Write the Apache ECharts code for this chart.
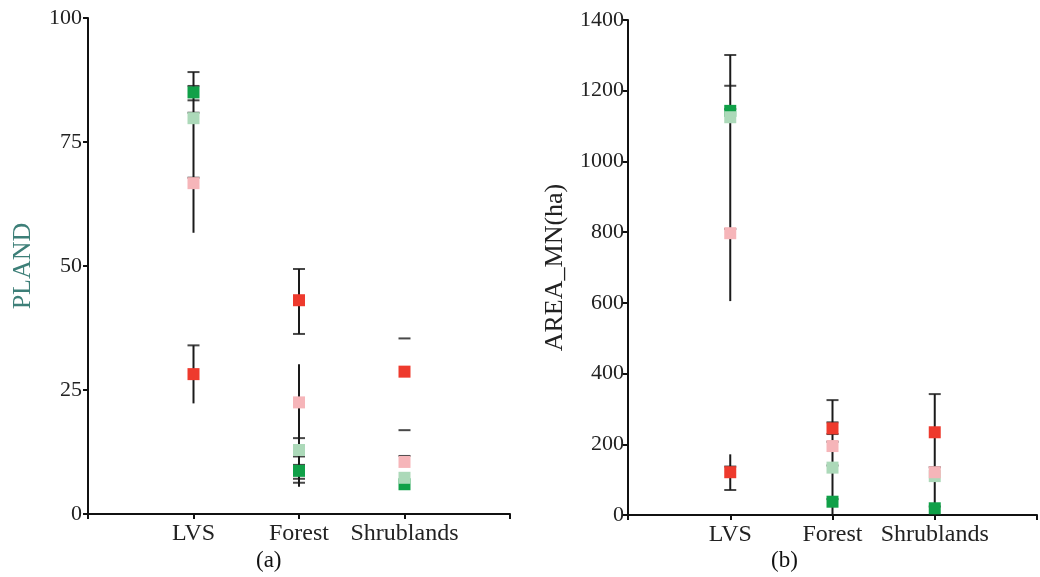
<!DOCTYPE html>
<html>
<head>
<meta charset="utf-8">
<script src="https://cdn.jsdelivr.net/npm/echarts@6/dist/echarts.min.js"></script>
<style>
  html, body { margin: 0; padding: 0; background: #fff; }
  #chart { width: 1040px; height: 577px; }
</style>
</head>
<body>
<div id="chart"></div>
<script>
// categories on both panels
var categories = ['LVS', 'Forest', 'Shrublands'];

// (a) PLAND - mean of each group, per category
var plandDarkGreen  = [85.0, 8.7, 6.0];
var plandLightGreen = [79.8, 12.9, 7.3];
var plandPink       = [66.7, 22.5, 10.5];
var plandRed        = [28.2, 43.1, 28.7];
// error bar lines [category, low, high]
var plandErrLines = [['LVS', 56.7, 89.1], ['LVS', 22.3, 34.0], ['Forest', 36.3, 49.4], ['Forest', 5.5, 30.2]];
// error bar caps [category, value]
var plandCaps = [
	['LVS', 89.1], ['LVS', 86.3], ['LVS', 83.4], ['LVS', 80.9], ['LVS', 67.8], ['LVS', 34.0],
	['Forest', 49.4], ['Forest', 36.3], ['Forest', 15.3], ['Forest', 11.6], ['Forest', 9.9], ['Forest', 7.1], ['Forest', 6.3],
	['Shrublands', 35.4], ['Shrublands', 16.9], ['Shrublands', 11.7]
];

// (b) AREA_MN (ha)
var areaDarkGreen  = [1143, 37.6, 19];
var areaLightGreen = [1125, 134, 110];
var areaPink       = [797, 195, 121];
var areaRed        = [121, 245, 234];
var areaErrLines = [['LVS', 605, 1301], ['LVS', 70.7, 171.6], ['Forest', 0, 325], ['Shrublands', 0, 342]];
var areaCaps = [
	['LVS', 1301], ['LVS', 1214], ['LVS', 1148], ['LVS', 809], ['LVS', 137], ['LVS', 70.7],
	['Forest', 325], ['Forest', 262], ['Forest', 229], ['Forest', 207], ['Forest', 140], ['Forest', 45],
	['Shrublands', 342], ['Shrublands', 135], ['Shrublands', 24]
];

var colDarkGreen = '#10a048';
var colLightGreen = '#acd9b9';
var colPink = '#f6b5b9';
var colRed = '#ee3a2d';
var serifFont = 'Liberation Serif';

var myChart = echarts.init(document.getElementById('chart'));

// empty slot at each end so the points sit on ticks 1..3
var axisCats = [''].concat(categories).concat(['']);

function pairs(vals) {
	var out = [];
	for (var i = 0; i < vals.length; i++) {
		out.push([categories[i], vals[i]]);
	}
	return out;
}

function xAxisFor(idx) {
	return {
		type: 'category',
		gridIndex: idx,
		data: axisCats,
		boundaryGap: false,
		axisLine: { lineStyle: { color: '#111', width: 2 } },
		axisTick: { interval: 0, length: 5, lineStyle: { color: '#111', width: 2 } },
		axisLabel: { interval: 0, color: '#222', fontFamily: serifFont, fontSize: 24, margin: 8 },
		splitLine: { show: false }
	};
}

function yAxisFor(idx, max, interval, name, nameColor, nameGap, margin) {
	return {
		type: 'value',
		gridIndex: idx,
		min: 0,
		max: max,
		interval: interval,
		name: name,
		nameLocation: 'middle',
		nameGap: nameGap,
		nameTextStyle: { color: nameColor, fontFamily: serifFont, fontSize: 26 },
		axisLine: { show: true, lineStyle: { color: '#111', width: 2 } },
		axisTick: { show: true, length: 5, lineStyle: { color: '#111', width: 2 } },
		axisLabel: {
			color: '#222', fontFamily: serifFont, fontSize: 22, margin: margin,
			formatter: function(v) { return String(v); }
		},
		splitLine: { show: false }
	};
}

function errLineSeries(idx, lines) {
	return {
		type: 'custom',
		xAxisIndex: idx,
		yAxisIndex: idx,
		z: 1,
		silent: true,
		data: lines,
		renderItem: function(params, api) {
			var p1 = api.coord([api.value(0), api.value(1)]);
			var p2 = api.coord([api.value(0), api.value(2)]);
			return {
				type: 'line',
				shape: { x1: p1[0], y1: p1[1], x2: p2[0], y2: p2[1] },
				style: { stroke: '#1a1a1a', lineWidth: 2 }
			};
		}
	};
}

function capSeries(idx, caps) {
	return {
		type: 'scatter',
		xAxisIndex: idx,
		yAxisIndex: idx,
		z: 2,
		silent: true,
		symbol: 'rect',
		symbolSize: [12, 2],
		itemStyle: { color: '#1a1a1a' },
		data: caps
	};
}

function markSeries(idx, name, vals, color) {
	return {
		name: name,
		type: 'scatter',
		xAxisIndex: idx,
		yAxisIndex: idx,
		z: 3,
		symbol: 'rect',
		symbolSize: 12,
		itemStyle: { color: color, opacity: 1 },
		data: pairs(vals)
	};
}

var option = {
	animation: false,
	backgroundColor: '#fff',
	grid: [
		{ left: 88, top: 18, width: 422, height: 496 },
		{ left: 628, top: 20, width: 416, height: 495 }
	],
	xAxis: [xAxisFor(0), xAxisFor(1)],
	yAxis: [
		yAxisFor(0, 100, 25, 'PLAND', '#3d7f78', 52, 6),
		yAxisFor(1, 1400, 200, 'AREA_MN(ha)', '#222', 60, 4)
	],
	graphic: [
		{ type: 'text', left: 256, top: 549, style: { text: '(a)', fill: '#111', font: '23px "Liberation Serif"' } },
		{ type: 'text', left: 771, top: 549, style: { text: '(b)', fill: '#111', font: '23px "Liberation Serif"' } }
	],
	series: [
		errLineSeries(0, plandErrLines),
		capSeries(0, plandCaps),
		markSeries(0, 'Group 1', plandDarkGreen, colDarkGreen),
		markSeries(0, 'Group 2', plandLightGreen, colLightGreen),
		markSeries(0, 'Group 3', plandPink, colPink),
		markSeries(0, 'Group 4', plandRed, colRed),
		errLineSeries(1, areaErrLines),
		capSeries(1, areaCaps),
		markSeries(1, 'Group 1', areaDarkGreen, colDarkGreen),
		markSeries(1, 'Group 2', areaLightGreen, colLightGreen),
		markSeries(1, 'Group 3', areaPink, colPink),
		markSeries(1, 'Group 4', areaRed, colRed)
	]
};

myChart.setOption(option, true);
</script>
</body>
</html>
